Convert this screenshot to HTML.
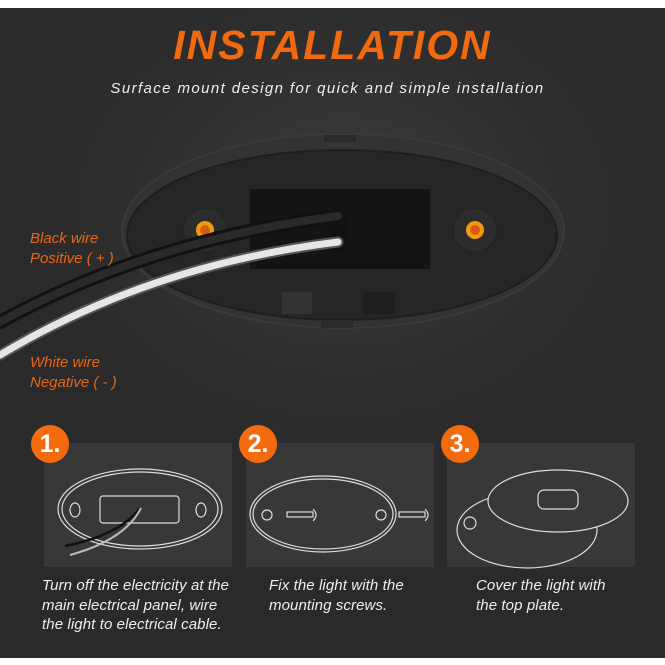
<!DOCTYPE html>
<html><head><meta charset="utf-8"><style>
body{margin:0;width:665px;height:665px;overflow:hidden;background:#fff;font-family:"Liberation Sans",sans-serif}
#c{position:absolute;left:0;top:8px;width:665px;height:650px;background:radial-gradient(ellipse 330px 260px at 345px 200px,#3d3d3d 0%,#2f2f2f 60%,#2a2a2a 100%)}
h1{position:absolute;left:0;width:665px;top:22px;margin:0;text-align:center;color:#f26a10;font-size:41px;font-style:italic;font-weight:bold;letter-spacing:2px}
.sub{position:absolute;left:0;width:655px;top:80px;text-align:center;color:#eee;font-size:15px;font-style:italic;letter-spacing:1.4px}
.lab{position:absolute;color:#e8661a;font-size:15px;font-style:italic;line-height:20px}
.box{position:absolute;top:443px;width:188px;height:124px;background:#383838}
.num{position:absolute;top:425px;width:38px;height:38px;border-radius:50%;background:#f46a0e;color:#fff;font-weight:bold;font-size:25px;line-height:38px;text-align:center}
.cap{position:absolute;top:576px;color:#eee;font-size:15px;font-style:italic;line-height:19.5px;letter-spacing:.1px}
</style></head><body>
<div id="c"></div>
<h1>INSTALLATION</h1>
<div class="sub">Surface mount design for quick and simple installation</div>
<svg style="position:absolute;left:0;top:0" width="665" height="420">
<ellipse cx="343" cy="231" rx="221" ry="97" fill="#333" stroke="#3a3a3a" stroke-width="2"/>
<ellipse cx="342" cy="235" rx="215" ry="85" fill="#262626" stroke="#1e1e1e" stroke-width="2"/>
<rect x="324" y="135" width="32" height="7" fill="#2a2a2a"/>
<rect x="321" y="320" width="32" height="8" fill="#2a2a2a"/>
<rect x="282" y="292" width="30" height="22" fill="#333"/>
<rect x="363" y="292" width="32" height="22" fill="#1e1e1e"/>
<rect x="250" y="189" width="180" height="80" fill="#141414"/>
<circle cx="205" cy="230" r="22" fill="#2c2c2c" stroke="#222"/>
<circle cx="205" cy="230" r="9" fill="#f39a0a"/><circle cx="205" cy="230" r="5" fill="#d85a10"/>
<circle cx="475" cy="230" r="22" fill="#2c2c2c" stroke="#222"/>
<circle cx="475" cy="230" r="9" fill="#f39a0a"/><circle cx="475" cy="230" r="5" fill="#d85a10"/>
<ellipse cx="337" cy="230" rx="10" ry="24" fill="#111"/>
<path d="M0 322 Q150 240 338 216" stroke="#111" stroke-width="14" fill="none" stroke-linecap="round"/>
<path d="M0 322 Q150 240 338 216" stroke="#2a2a2a" stroke-width="8" fill="none" stroke-linecap="round"/>
<path d="M0 355 Q150 265 338 242" stroke="#555" stroke-width="11" fill="none" stroke-linecap="round"/>
<path d="M0 355 Q150 265 338 242" stroke="#e6e6e6" stroke-width="7" fill="none" stroke-linecap="round"/>
</svg>
<div class="lab" style="left:30px;top:229px">Black wire<br>Positive ( + )</div>
<div class="lab" style="left:30px;top:353px">White wire<br>Negative ( - )</div>
<div class="box" style="left:44px"></div>
<div class="box" style="left:246px"></div>
<div class="box" style="left:447px"></div>
<svg style="position:absolute;left:0;top:420px" width="665" height="160" fill="none" stroke="#ddd" stroke-width="1.2">
<ellipse cx="140" cy="89" rx="82" ry="40"/><ellipse cx="140" cy="89" rx="78" ry="37"/>
<rect x="100" y="76" width="79" height="27" rx="3"/>
<ellipse cx="75" cy="90" rx="5" ry="7"/><ellipse cx="201" cy="90" rx="5" ry="7"/>
<path d="M140 88 Q120 115 65 126" stroke="#111" stroke-width="2.5"/>
<path d="M141 88 Q125 120 70 135" stroke="#bbb" stroke-width="2"/>
<ellipse cx="323" cy="94" rx="73" ry="38"/><ellipse cx="323" cy="94" rx="70" ry="35"/>
<circle cx="267" cy="95" r="5"/><circle cx="381" cy="95" r="5"/>
<rect x="287" y="92" width="26" height="5"/><path d="M313 89 q6 6 0 12"/>
<rect x="399" y="92" width="26" height="5"/><path d="M425 89 q6 6 0 12"/>
<ellipse cx="527" cy="110" rx="70" ry="38"/><ellipse cx="470" cy="103" rx="6" ry="6"/>
<ellipse cx="558" cy="81" rx="70" ry="31" fill="#383838"/>
<rect x="538" y="70" width="40" height="19" rx="6"/>
</svg>
<div class="num" style="left:31px">1.</div>
<div class="num" style="left:239px">2.</div>
<div class="num" style="left:441px">3.</div>
<div class="cap" style="left:42px">Turn off the electricity at the<br>main electrical panel, wire<br>the light to electrical cable.</div>
<div class="cap" style="left:269px">Fix the light with the<br>mounting screws.</div>
<div class="cap" style="left:476px">Cover the light with<br>the top plate.</div>
</body></html>
